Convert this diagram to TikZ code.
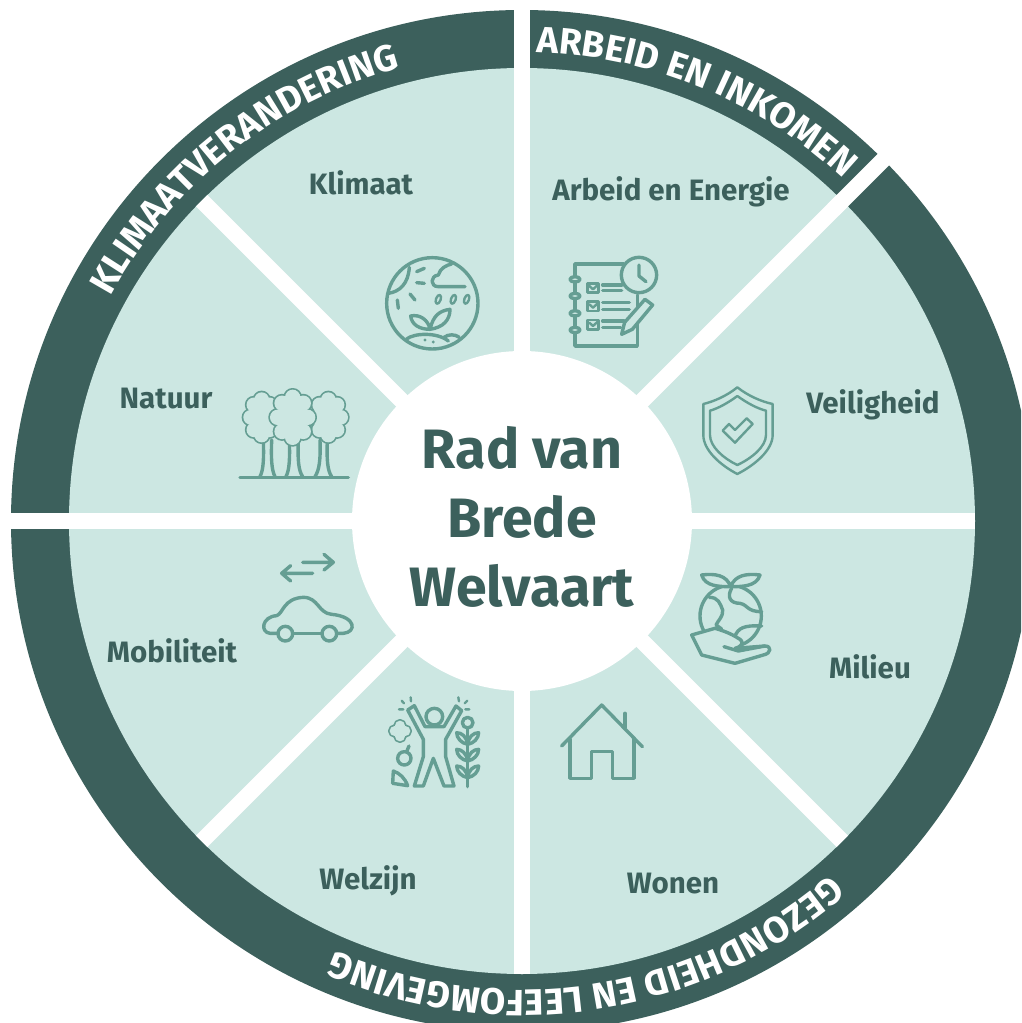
\documentclass[tikz,border=0pt]{standalone}
\usepackage{fontspec}
\setmainfont{Fira Sans}
\usetikzlibrary{decorations.text}
\definecolor{darkteal}{HTML}{3C605C}
\definecolor{paleteal}{HTML}{CCE7E2}
\definecolor{iconteal}{HTML}{659E93}
\tikzset{
  spoke/.style={draw=white,line width=16pt},
  seclabel/.style={text=darkteal,font=\bfseries\fontsize{29.5}{32}\selectfont},
  icon/.style={draw=iconteal,line width=3.4pt,line cap=round,line join=round},
  thinicon/.style={icon,line width=2.4pt},
  iconat/.style 2 args={shift={(#1,#2)},x=1/3pt,y=-1/3pt},
  ringtext/.style={decorate,decoration={text along path,text align=center,text color=white,text={|\bfseries\fontsize{36.8}{37}\selectfont|#1}}}
}
\newcommand{\lobed}[6]{
  \foreach \k in {1,...,#6}{\draw[icon] ({#1+#3*cos(\k*360/#6)},{#2+#4*sin(\k*360/#6)}) circle (#5);}
  \foreach \k in {1,...,#6}{\fill[paleteal] ({#1+#3*cos(\k*360/#6)},{#2+#4*sin(\k*360/#6)}) circle (#5);}
  \fill[paleteal] (#1,#2) ellipse[x radius=#3,y radius=#4];
}
\begin{document}
\begin{tikzpicture}[x=1pt,y=1pt]
  \useasboundingbox (-522,521) rectangle (499,-502);
  \clip (-522,521) rectangle (499,-502);

  \fill[darkteal] (0,0) circle (511);
  \fill[paleteal] (0,0) circle (453);
  \begin{scope}
    \clip (0,0) circle (453);
    \foreach \a in {0,45,...,315}{\draw[spoke] (0,0) -- (\a:460);}
  \end{scope}
  \foreach \a in {45,90,180}{\draw[spoke] (\a:440) -- (\a:530);}
  \node[circle,fill=white,minimum size=340pt,inner sep=0pt,text=darkteal] (hub) at (0,0) {};
  \node[align=center,text=darkteal,font=\bfseries\fontsize{55.5}{69}\selectfont] (title) at (0,4) {Rad van\\Brede\\Welvaart};

  \path[ringtext=KLIMAATVERANDERING] (154.2:469) arc[start angle=154.2,end angle=102.2,radius=469];
  \path[ringtext=ARBEID EN INKOMEN] (90.5:469) arc[start angle=90.5,end angle=44.5,radius=469];
  \path[ringtext=GEZONDHEID EN LEEFOMGEVING] (-45:469) arc[start angle=-45,end angle=-117.4,radius=469];

  \begin{scope}[shift={(-522,521)},y=-1pt]
    \node[seclabel] (klimaat) at (361,183) {Klimaat};
    \node[seclabel] (arbeid) at (671,192) {Arbeid en Energie};
    \node[seclabel] (natuur) at (166,399) {Natuur};
    \node[seclabel] (veiligheid) at (873,405) {Veiligheid};
    \node[seclabel] (mobiliteit) at (172,651) {Mobiliteit};
    \node[seclabel] (milieu) at (870,667) {Milieu};
    \node[seclabel] (welzijn) at (368,881) {Welzijn};
    \node[seclabel] (wonen) at (673,884) {Wonen};

    \begin{scope}[iconat={370}{240}]
      \draw[icon] (187,190) circle (137);
      \draw[icon] (118,82) .. controls (115,130) and (90,155) .. (55,160);
      \draw[icon] (140,95) -- (163,85) (140,128) -- (163,130) (120,162) -- (135,180) (82,180) -- (85,205);
      \draw[icon] (285,140) -- (205,140) .. controls (180,140) and (180,108) .. (205,105)
        .. controls (210,85) and (230,75) .. (245,72);
      \foreach \p in {205,250,290}{\draw[thinicon] (\p,178) ellipse[x radius=7,y radius=14,rotate=-20];}
      \draw[icon] (180,268) .. controls (150,268) and (125,255) .. (122,228) .. controls (150,222) and (175,240) .. (180,268)
        .. controls (190,225) and (210,212) .. (240,208) .. controls (240,240) and (220,262) .. (180,268);
      \draw[icon] (110,297) .. controls (130,280) and (200,275) .. (235,303);
      \draw[icon] (222,292) .. controls (235,282) and (255,282) .. (268,292);
      \fill[iconteal] (165,300) circle (5) (190,306) circle (5);
    \end{scope}

    \begin{scope}[iconat={370}{240}]
      \draw[icon] (760,72) -- (615,72) -- (615,318) -- (802,318) -- (802,165);
      \foreach \p in {118,168,220,270}{\draw[icon,fill=paleteal] (615,\p) ellipse[x radius=15,y radius=8];}
      \draw[icon,fill=paleteal] (807,105) circle (53);
      \draw[icon] (807,75) -- (807,108) -- (828,125);
      \foreach \p in {130,185,240}{
        \draw[thinicon] (653,\p) rectangle (685,\p+28);
        \draw[thinicon] (658,\p+8) -- (669,\p+18) -- (682,\p+6);
      }
      \draw[icon] (698,135) -- (755,135) (698,152) -- (755,152) (698,188) -- (778,188) (698,208) -- (778,208)
        (698,243) -- (762,243) (698,263) -- (752,263);
      \draw[icon,fill=paleteal] (755,283) -- (764,247) -- (825,178) -- (848,195) -- (787,268) -- cycle;
    \end{scope}

    \begin{scope}[iconat={230}{380}]
      \draw[icon] (100,180) .. controls (102,240) and (100,270) .. (90,290) (125,180) .. controls (123,240) and (125,270) .. (135,290);
      \draw[icon] (178,180) .. controls (180,240) and (178,270) .. (168,290) (205,180) .. controls (203,240) and (205,270) .. (218,290);
      \draw[icon] (270,180) .. controls (272,240) and (268,270) .. (255,290) (292,180) .. controls (290,240) and (292,270) .. (305,290);
      \draw[icon] (30,293) -- (355,293);
      \lobed{95}{112}{33}{53}{22}{8}
      \lobed{295}{112}{37}{53}{22}{8}
      \lobed{188}{112}{45}{60}{23}{8}
    \end{scope}

    \begin{scope}[iconat={680}{380}]
      \draw[thinicon] (172,22) .. controls (205,48) and (245,65) .. (278,72) -- (278,165)
        .. controls (278,210) and (225,255) .. (172,282) .. controls (120,255) and (70,210) .. (70,165) -- (70,72)
        .. controls (100,65) and (140,48) .. (172,22) -- cycle;
      \draw[thinicon] (172,48) .. controls (200,68) and (230,85) .. (258,92) -- (258,165)
        .. controls (258,200) and (215,235) .. (172,255) .. controls (130,235) and (90,200) .. (90,165) -- (90,92)
        .. controls (115,85) and (145,68) .. (172,48) -- cycle;
      \draw[thinicon] (128,152) -- (147,132) -- (165,150) -- (200,115) -- (218,132) -- (165,188) -- cycle;
    \end{scope}

    \begin{scope}[iconat={680}{560}]
      \draw[icon] (152,168) circle (92);
      \draw[icon] (88,112) .. controls (115,112) and (120,130) .. (128,150) .. controls (130,170) and (115,180) .. (108,195) -- (125,207);
      \draw[icon] (155,85) .. controls (140,110) and (150,130) .. (180,130) .. controls (205,135) and (200,155) .. (245,155);
      \draw[icon] (165,228) .. controls (175,205) and (190,195) .. (245,198);
      \draw[icon,fill=paleteal] (152,80) .. controls (120,80) and (75,80) .. (65,45) .. controls (105,40) and (140,45) .. (152,80)
        .. controls (165,45) and (200,40) .. (240,45) .. controls (230,80) and (185,80) .. (152,80) -- cycle;
      \draw[icon,fill=paleteal] (35,225) -- (105,205) .. controls (140,215) and (160,225) .. (180,238)
        .. controls (195,250) and (180,262) .. (165,265) -- (255,258) .. controls (275,258) and (275,280) .. (250,285)
        -- (165,310) -- (65,285) -- cycle;
      \draw[icon] (132,260) -- (175,273) -- (255,258);
    \end{scope}

    \begin{scope}[iconat={380}{690}]
      \draw[icon] (163,80) circle (25);
      \draw[icon] (83,60) -- (103,47) -- (135,110) -- (192,110) -- (228,48) -- (245,62) -- (197,148) -- (197,200)
        -- (222,288) -- (192,288) -- (160,205) -- (130,288) -- (103,288) -- (130,200) -- (130,148) -- cycle;
      \draw[thinicon] (65,32) -- (72,40) (92,22) -- (93,34) (57,58) -- (70,58)
        (235,22) -- (237,34) (262,32) -- (254,40) (268,58) -- (256,58);
      \lobed{60}{123}{16}{16}{15}{4}
      \draw[icon] (73,205) circle (20);
      \draw[icon] (80,185) -- (87,168);
      \draw[icon] (40,243) -- (38,280) -- (83,287) .. controls (75,265) and (60,250) .. (40,243) -- cycle;
      \draw[icon] (263,115) -- (263,290);
      \draw[icon] (263,98) circle (16);
      \foreach \p in {125,175,225}{
        \draw[icon] (263,\p+38) .. controls (245,\p+35) and (230,\p+20) .. (230,\p+3) .. controls (245,\p+3) and (260,\p+15) .. (263,\p+38)
          .. controls (266,\p+15) and (280,\p+3) .. (296,\p+3) .. controls (296,\p+20) and (281,\p+35) .. (263,\p+38);
      }
    \end{scope}

    \begin{scope}[iconat={380}{690}]
      \draw[icon] (545,168) -- (665,45) -- (787,170);
      \draw[icon] (735,70) -- (735,112);
      \draw[icon] (570,148) -- (570,265) -- (635,265) -- (635,185) -- (697,185) -- (697,265) -- (762,265) -- (762,148);
    \end{scope}

    \begin{scope}[iconat={250}{545}]
      \draw[icon] (158,52) -- (250,52) (222,28) -- (250,52) -- (222,75);
      \draw[icon] (188,85) -- (95,85) (122,62) -- (95,85) -- (122,108);
      \draw[icon] (84,265) -- (60,265) .. controls (30,262) and (35,215) .. (80,212) .. controls (100,205) and (100,160) .. (160,157)
        .. controls (205,157) and (205,205) .. (245,208) .. controls (320,215) and (320,262) .. (280,265) -- (260,265);
      \draw[icon] (128,265) -- (216,265);
      \draw[icon] (106,266) circle (22);
      \draw[icon] (238,266) circle (22);
    \end{scope}
  \end{scope}
\end{tikzpicture}
\end{document}
